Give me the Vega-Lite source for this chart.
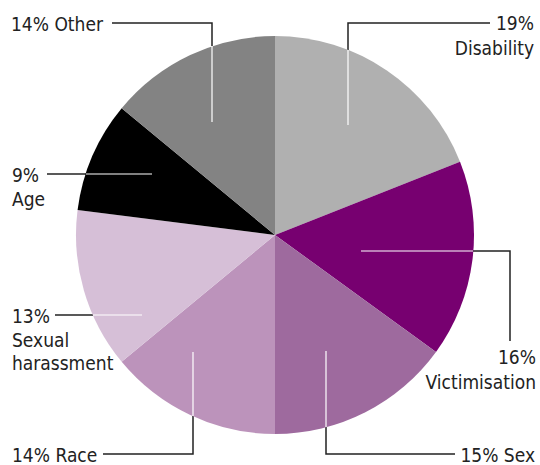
{
  "$schema": "https://vega.github.io/schema/vega-lite/v6.json",
  "width": 530,
  "height": 460,
  "padding": {"left": 10, "top": 5, "right": 0, "bottom": 0},
  "autosize": {"type": "none"},
  "background": "white",
  "config": {"view": {"stroke": null}},
  "datasets": {
    "slices": [
      {"cat": "Disability", "v": 19, "k": 1},
      {"cat": "Victimisation", "v": 16, "k": 2},
      {"cat": "Sex", "v": 15, "k": 3},
      {"cat": "Race", "v": 14, "k": 4},
      {"cat": "Sexual harassment", "v": 13, "k": 5},
      {"cat": "Age", "v": 9, "k": 6},
      {"cat": "Other", "v": 14, "k": 7}
    ],
    "leaders": [
      {"id": "Other", "part": "out", "o": 1, "x": -163, "y": 212},
      {"id": "Other", "part": "out", "o": 2, "x": -63, "y": 212},
      {"id": "Other", "part": "out", "o": 3, "x": -63, "y": 189},
      {"id": "Other", "part": "in", "o": 1, "x": -63, "y": 189},
      {"id": "Other", "part": "in", "o": 2, "x": -63, "y": 113},
      {"id": "Disability", "part": "out", "o": 1, "x": 215, "y": 212},
      {"id": "Disability", "part": "out", "o": 2, "x": 73, "y": 212},
      {"id": "Disability", "part": "out", "o": 3, "x": 73, "y": 185},
      {"id": "Disability", "part": "in", "o": 1, "x": 73, "y": 185},
      {"id": "Disability", "part": "in", "o": 2, "x": 73, "y": 110},
      {"id": "Age", "part": "out", "o": 1, "x": -228, "y": 61},
      {"id": "Age", "part": "out", "o": 2, "x": -189, "y": 61},
      {"id": "Age", "part": "in", "o": 1, "x": -189, "y": 61},
      {"id": "Age", "part": "in", "o": 2, "x": -123, "y": 61},
      {"id": "Sexual harassment", "part": "out", "o": 1, "x": -220, "y": -80},
      {"id": "Sexual harassment", "part": "out", "o": 2, "x": -182, "y": -80},
      {"id": "Sexual harassment", "part": "in", "o": 1, "x": -182, "y": -80},
      {"id": "Sexual harassment", "part": "in", "o": 2, "x": -133, "y": -80},
      {"id": "Victimisation", "part": "out", "o": 1, "x": 235, "y": -106},
      {"id": "Victimisation", "part": "out", "o": 2, "x": 235, "y": -16},
      {"id": "Victimisation", "part": "out", "o": 3, "x": 198, "y": -16},
      {"id": "Victimisation", "part": "in", "o": 1, "x": 198, "y": -16},
      {"id": "Victimisation", "part": "in", "o": 2, "x": 86, "y": -16},
      {"id": "Sex", "part": "out", "o": 1, "x": 180, "y": -219},
      {"id": "Sex", "part": "out", "o": 2, "x": 51, "y": -219},
      {"id": "Sex", "part": "out", "o": 3, "x": 51, "y": -192},
      {"id": "Sex", "part": "in", "o": 1, "x": 51, "y": -192},
      {"id": "Sex", "part": "in", "o": 2, "x": 51, "y": -116},
      {"id": "Race", "part": "out", "o": 1, "x": -172, "y": -219},
      {"id": "Race", "part": "out", "o": 2, "x": -82, "y": -219},
      {"id": "Race", "part": "out", "o": 3, "x": -82, "y": -181},
      {"id": "Race", "part": "in", "o": 1, "x": -82, "y": -181},
      {"id": "Race", "part": "in", "o": 2, "x": -82, "y": -117}
    ],
    "labels": [
      {"label": "14% Other", "side": "left", "x": -264, "y": 204},
      {"label": "19%\nDisability", "side": "right", "x": 259, "y": 205},
      {"label": "9%\nAge", "side": "left", "x": -263, "y": 53},
      {"label": "13%\nSexual\nharassment", "side": "left", "x": -263, "y": -88},
      {"label": "16%\nVictimisation", "side": "right", "x": 261, "y": -129},
      {"label": "15% Sex", "side": "right", "x": 260, "y": -227},
      {"label": "14% Race", "side": "left", "x": -263, "y": -227}
    ]
  },
  "layer": [
    {
      "data": {"name": "leaders"},
      "transform": [{"filter": "datum.part === 'out'"}],
      "mark": {"type": "line", "stroke": "#222222", "strokeWidth": 1.5, "interpolate": "linear"},
      "encoding": {
        "x": {"field": "x", "type": "quantitative", "scale": {"domain": [-265, 265], "nice": false, "zero": false}, "axis": null},
        "y": {"field": "y", "type": "quantitative", "scale": {"domain": [-230, 230], "nice": false, "zero": false}, "axis": null},
        "detail": {"field": "id"},
        "order": {"field": "o"}
      }
    },
    {
      "data": {"name": "slices"},
      "mark": {"type": "arc", "outerRadius": 199},
      "encoding": {
        "theta": {"field": "v", "type": "quantitative", "stack": true},
        "order": {"field": "k"},
        "color": {
          "field": "cat",
          "type": "nominal",
          "scale": {
            "domain": ["Disability", "Victimisation", "Sex", "Race", "Sexual harassment", "Age", "Other"],
            "range": ["#b0b0b0", "#770070", "#9e6a9e", "#bc93bb", "#d6bfd7", "#000000", "#838383"]
          },
          "legend": null
        }
      }
    },
    {
      "data": {"name": "leaders"},
      "transform": [{"filter": "datum.part === 'in'"}],
      "mark": {"type": "line", "stroke": "#ffffff", "strokeWidth": 1.2},
      "encoding": {
        "x": {"field": "x", "type": "quantitative", "axis": null},
        "y": {"field": "y", "type": "quantitative", "axis": null},
        "detail": {"field": "id"},
        "order": {"field": "o"}
      }
    },
    {
      "data": {"name": "labels"},
      "transform": [{"filter": "datum.side === 'left'"}],
      "mark": {"type": "text", "align": "left", "baseline": "alphabetic", "font": "DejaVu Sans Condensed", "fontSize": 19, "lineBreak": "\n", "lineHeight": 23.5, "color": "#222222"},
      "encoding": {
        "x": {"field": "x", "type": "quantitative", "axis": null},
        "y": {"field": "y", "type": "quantitative", "axis": null},
        "text": {"field": "label"}
      }
    },
    {
      "data": {"name": "labels"},
      "transform": [{"filter": "datum.side === 'right'"}],
      "mark": {"type": "text", "align": "right", "baseline": "alphabetic", "font": "DejaVu Sans Condensed", "fontSize": 19, "lineBreak": "\n", "lineHeight": 24.5, "color": "#222222"},
      "encoding": {
        "x": {"field": "x", "type": "quantitative", "axis": null},
        "y": {"field": "y", "type": "quantitative", "axis": null},
        "text": {"field": "label"}
      }
    }
  ]
}
